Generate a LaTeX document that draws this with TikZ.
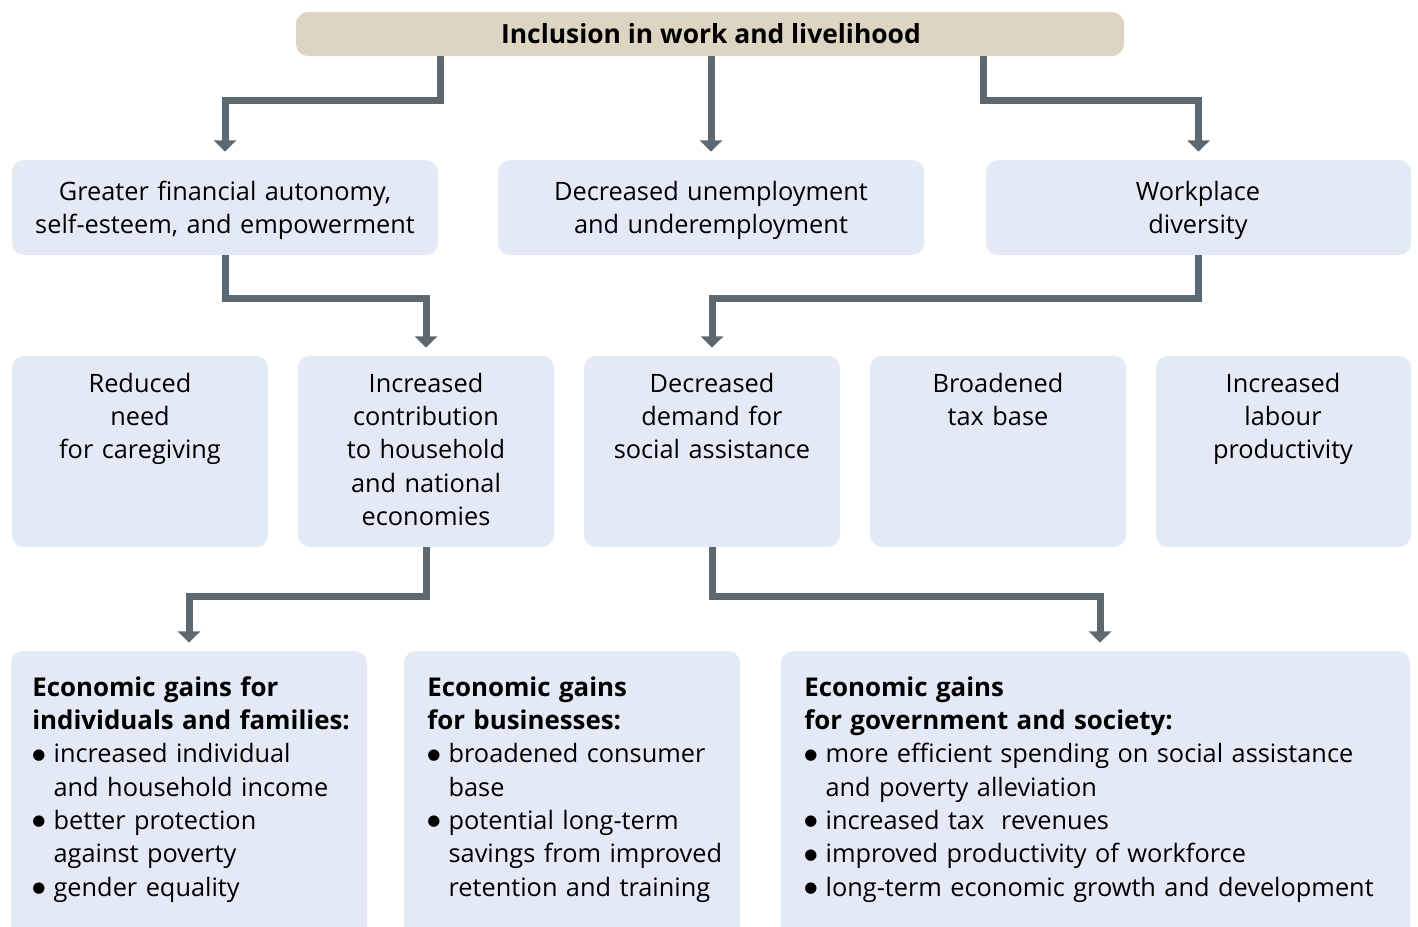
\documentclass[tikz,border=0pt]{standalone}
\usepackage{fontspec}
\setmainfont{Open Sans}
\newfontfamily\symfont{DejaVu Sans}
\usetikzlibrary{arrows.meta,fit,calc}
\definecolor{boxblue}{RGB}{227,233,245}
\definecolor{boxtan}{RGB}{221,213,194}
\definecolor{arrgray}{RGB}{94,104,112}
\begin{document}
\begin{tikzpicture}[x=0.75pt,y=-0.75pt,
  box/.style={fill=boxblue,draw=none,rounded corners=9pt,inner sep=0pt},
  topbox/.style={fill=boxtan,draw=none,rounded corners=9pt,inner sep=0pt},
  txt/.style={font=\fontsize{19}{25}\selectfont,inner sep=0pt},
  ctxt/.style={txt,text width=240pt,align=center,anchor=base},
  ltxt/.style={txt,text width=460pt,align=left,anchor=base west},
  arr/.style={draw=arrgray,line width=5.25pt,line join=miter,shorten >=6pt,
    -{Triangle[width=16.5pt,length=8.5pt]}}]
\clip (0,0) rectangle (1418,926);
\useasboundingbox (0,0) rectangle (1418,926);
\fill[white] (0,0) rectangle (1418,926);
% top
\node[topbox,fit={(296,12) (1124,56)}] (top) {};
\node[inner sep=0pt,anchor=base,font=\fontsize{19.8}{25}\selectfont\bfseries] (toptxt) at (711,43) {Inclusion in work and livelihood};
% row 1
\node[box,fit={(12,160) (438,255)}] (b1) {};
\node[box,fit={(498,160) (924,255)}] (b2) {};
\node[box,fit={(986,160) (1411,255)}] (b3) {};
\node[ctxt,text width=320pt] (t1) at (225,200) {Greater financial autonomy,\\self-esteem, and empowerment};
\node[ctxt,text width=320pt] (t2) at (711,200) {Decreased unemployment\\and underemployment};
\node[ctxt,text width=320pt] (t3) at (1198,200) {Workplace\\diversity};
% row 2
\node[box,fit={(12,356) (268,547)}] (m1) {};
\node[box,fit={(298,356) (554,547)}] (m2) {};
\node[box,fit={(584,356) (840,547)}] (m3) {};
\node[box,fit={(870,356) (1126,547)}] (m4) {};
\node[box,fit={(1156,356) (1411,547)}] (m5) {};
\node[ctxt] (u1) at (140,392) {Reduced\\need\\for caregiving};
\node[ctxt] (u2) at (426,392) {Increased\\contribution\\to household\\and national\\economies};
\node[ctxt] (u3) at (712,392) {Decreased\\demand for\\social assistance};
\node[ctxt] (u4) at (998,392) {Broadened\\tax base};
\node[ctxt] (u5) at (1283,392) {Increased\\labour\\productivity};
% row 3
\node[box,fit={(11,651) (367,945)}] (l1) {};
\node[box,fit={(404,651) (740,945)}] (l2) {};
\node[box,fit={(781,651) (1410,945)}] (l3) {};
\newcommand{\bul}{\makebox[16pt][l]{\raisebox{2.6pt}{\symfont\fontsize{11.2}{11.2}\selectfont ●}}}
\newcommand{\ind}{\hspace*{16pt}}
\newcommand{\hd}[1]{{\fontsize{19.4}{25}\selectfont\bfseries #1}}
\node[ltxt] (v1) at (32,696) {\hd{Economic gains for}\\\hd{individuals and families:}\\\bul increased individual\\\ind and household income\\\bul better protection\\\ind against poverty\\\bul gender equality};
\node[ltxt] (v2) at (427,696) {\hd{Economic gains}\\\hd{for businesses:}\\\bul broadened consumer\\\ind base\\\bul potential long-term\\\ind savings from improved\\\ind retention and training};
\node[ltxt] (v3) at (804,696) {\hd{Economic gains}\\\hd{for government and society:}\\\bul more efficient spending on social assistance\\\ind and poverty alleviation\\\bul increased tax\ \ revenues\\\bul improved productivity of workforce\\\bul long-term economic growth and development};
% connectors
\coordinate (c1) at (440,0);
\coordinate (c3) at (983,0);
\coordinate (c7) at (1100,0);
\draw[arr] (top.south -| c1) -- ++(0,44) -| (b1.north);
\draw[arr] (top.south -| b2.north) -- (b2.north);
\draw[arr] (top.south -| c3) -- ++(0,44) -| (b3.north);
\draw[arr] (b1.south) -- ++(0,43) -| (m2.north);
\draw[arr] (b3.south) -- ++(0,43) -| (m3.north);
\draw[arr] (m2.south) -- ++(0,49) -| (l1.north);
\draw[arr] (m3.south) -- ++(0,49) -| (l3.north -| c7);
\end{tikzpicture}
\end{document}
